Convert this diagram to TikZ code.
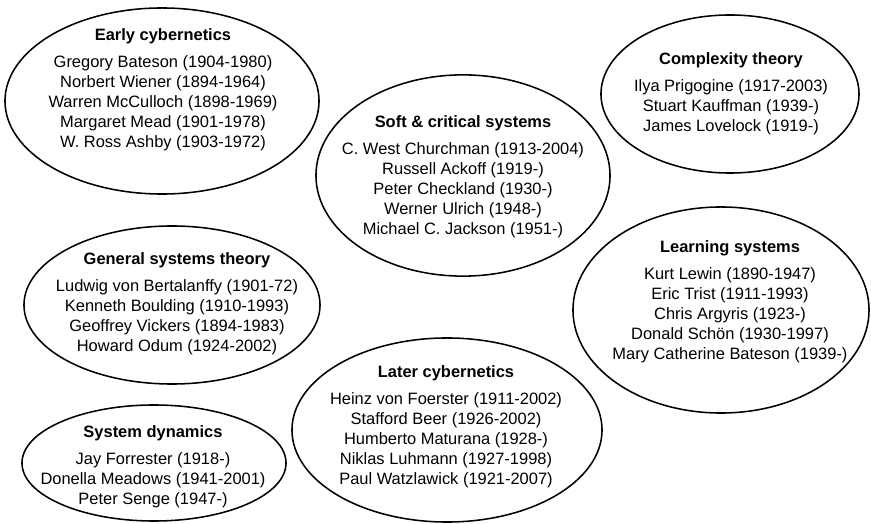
\documentclass[tikz,border=0pt]{standalone}
\usepackage{fontspec}
\setmainfont{Liberation Sans}
\usetikzlibrary{shapes.geometric}

\begin{document}
\begin{tikzpicture}[x=0.025cm, y=-0.025cm,
    burbuja/.style 2 args={draw, ellipse, line width=1.1pt, inner sep=0pt,
                           minimum width=#1, minimum height=#2},
    texto/.style={anchor=north, align=center, inner sep=0pt,
                  font=\fontsize{11.7pt}{14.2pt}\selectfont}]
    \useasboundingbox (0,0) rectangle (871,524); % tamaño de la figura

    % las burbujas
    \node[burbuja={7.85cm}{4.65cm}] (early) at (162,101) {};
    \node[burbuja={7.35cm}{5.03cm}] (soft) at (463,175.5) {};
    \node[burbuja={6.45cm}{3.95cm}] (complexity) at (730,94) {};
    \node[burbuja={7.4cm}{3.95cm}] (general) at (172,305) {};
    \node[burbuja={7.4cm}{5.15cm}] (learning) at (721,310) {};
    \node[burbuja={6.6cm}{2.9cm}] (dynamics) at (154,463) {};
    \node[burbuja={7.75cm}{4.6cm}] (later) at (447,430) {};

    % los textos
    \node[texto] (early text) at (163,28) {\textbf{Early cybernetics}\\[5pt]
        Gregory Bateson (1904-1980)\\ Norbert Wiener (1894-1964)\\
        Warren McCulloch (1898-1969)\\ Margaret Mead (1901-1978)\\
        W. Ross Ashby (1903-1972)};
    \node[texto] (soft text) at (463,115) {\textbf{Soft \& critical systems}\\[5pt]
        C. West Churchman (1913-2004)\\ Russell Ackoff (1919-)\\
        Peter Checkland (1930-)\\ Werner Ulrich (1948-)\\
        Michael C. Jackson (1951-)};
    \node[texto] (complexity text) at (731,52) {\textbf{Complexity theory}\\[5pt]
        Ilya Prigogine (1917-2003)\\ Stuart Kauffman (1939-)\\
        James Lovelock (1919-)};
    \node[texto] (general text) at (177,252) {\textbf{General systems theory}\\[5pt]
        Ludwig von Bertalanffy (1901-72)\\ Kenneth Boulding (1910-1993)\\
        Geoffrey Vickers (1894-1983)\\ Howard Odum (1924-2002)};
    \node[texto] (learning text) at (730,240) {\textbf{Learning systems}\\[5pt]
        Kurt Lewin (1890-1947)\\ Eric Trist (1911-1993)\\
        Chris Argyris (1923-)\\ Donald Schön (1930-1997)\\
        Mary Catherine Bateson (1939-)};
    \node[texto] (dynamics text) at (153,425) {\textbf{System dynamics}\\[5pt]
        Jay Forrester (1918-)\\ Donella Meadows (1941-2001)\\
        Peter Senge (1947-)};
    \node[texto] (later text) at (446,365) {\textbf{Later cybernetics}\\[5pt]
        Heinz von Foerster (1911-2002)\\ Stafford Beer (1926-2002)\\
        Humberto Maturana (1928-)\\ Niklas Luhmann (1927-1998)\\
        Paul Watzlawick (1921-2007)};
\end{tikzpicture}
\end{document}
